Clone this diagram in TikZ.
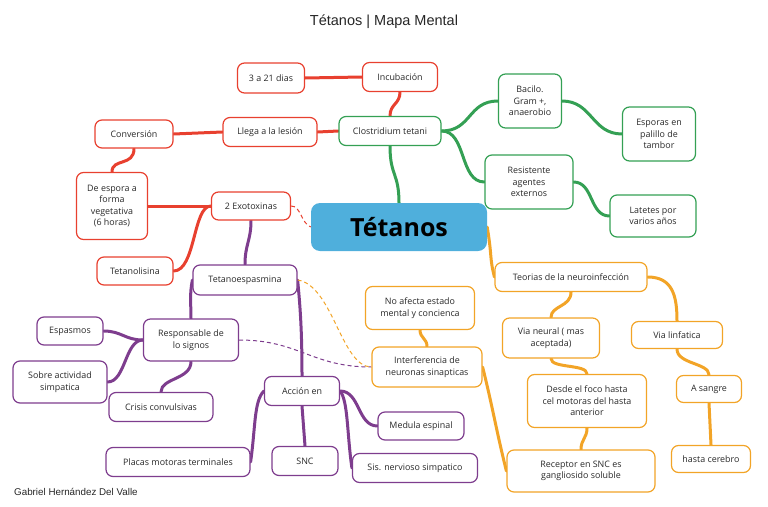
\documentclass[tikz,border=0pt]{standalone}
\usepackage{fontspec}
\setmainfont{Open Sans}
\newfontfamily\titlefont{Liberation Sans}
\usetikzlibrary{backgrounds}
\definecolor{cred}{HTML}{E8402F}
\definecolor{cgreen}{HTML}{34A054}
\definecolor{cpurple}{HTML}{7E3D8E}
\definecolor{corange}{HTML}{F2A427}
\definecolor{cblue}{HTML}{4FAFDC}
\definecolor{ctext}{HTML}{2A2A2A}
\begin{document}
\begin{tikzpicture}[x=1pt,y=-1pt,
  box/.style={draw,line width=1.2pt,rounded corners=7pt,fill=white,align=center,inner sep=1pt,
    font=\fontsize{8.9}{11.5}\selectfont,text=ctext},
  rbox/.style={box,draw=cred},
  gbox/.style={box,draw=cgreen},
  pbox/.style={box,draw=cpurple},
  obox/.style={box,draw=corange},
  link/.style={line width=3pt,line cap=round},
  dlink/.style={line width=1pt,dash pattern=on 4pt off 3pt},
]
\useasboundingbox (0,0) rectangle (768,506);
\node[font=\titlefont\fontsize{14.5}{16}\selectfont,text=black!85] (title) at (384,22) {Tétanos | Mapa Mental};
\node[font=\titlefont\fontsize{9.8}{11}\selectfont,text=black!85,anchor=west,inner sep=0pt] (foot) at (14,492) {Gabriel Hernández Del Valle};

% central
\node[fill=cblue,rounded corners=9pt,minimum width=176,minimum height=48,inner sep=0pt,
  font=\bfseries\fontsize{25}{28}\selectfont,text=black] (tet) at (399,227) {Tétanos};

% red
\node[rbox,minimum width=67,minimum height=30] (d321) at (271,78) {3 a 21 dias};
\node[rbox,minimum width=75,minimum height=29] (inc) at (400,77) {Incubación};
\node[rbox,minimum width=78,minimum height=28] (conv) at (134,134) {Conversión};
\node[rbox,minimum width=94,minimum height=29] (llega) at (270,132) {Llega a la lesión};
\node[rbox,minimum width=71,minimum height=67] (deesp) at (112,206) {De espora a\\forma\\vegetativa\\(6 horas)};
\node[rbox,minimum width=79,minimum height=28] (exo) at (251,206) {2 Exotoxinas};
\node[rbox,minimum width=76,minimum height=28] (tetl) at (135,271) {Tetanolisina};

% green
\node[gbox,minimum width=102,minimum height=29] (clos) at (390,131) {Clostridium tetani};
\node[gbox,minimum width=63,minimum height=54] (bac) at (530,101) {Bacilo.\\Gram +,\\anaerobio};
\node[gbox,minimum width=73,minimum height=54] (espo) at (659,134) {Esporas en\\palillo de\\tambor};
\node[gbox,minimum width=88,minimum height=54] (res) at (529,182) {Resistente\\agentes\\externos};
\node[gbox,minimum width=86,minimum height=42] (lat) at (653,216) {Latetes por\\varios años};

% purple
\node[pbox,minimum width=104,minimum height=30] (teto) at (245,280) {Tetanoespasmina};
\node[pbox,minimum width=95,minimum height=42] (resp) at (191,340) {Responsable de\\lo signos};
\node[pbox,minimum width=66,minimum height=28] (espas) at (70,331) {Espasmos};
\node[pbox,minimum width=94,minimum height=42] (sobre) at (60,382) {Sobre actividad\\simpatica};
\node[pbox,minimum width=104,minimum height=29] (crisis) at (161,407) {Crisis convulsivas};
\node[pbox,minimum width=75,minimum height=29] (acc) at (302,391) {Acción en};
\node[pbox,minimum width=144,minimum height=29] (placas) at (178,462) {Placas motoras terminales};
\node[pbox,minimum width=66,minimum height=29] (snc) at (305,461) {SNC};
\node[pbox,minimum width=86,minimum height=28] (med) at (421,426) {Medula espinal};
\node[pbox,minimum width=125,minimum height=29] (sis) at (415,468) {Sis. nervioso simpatico};

% orange
\node[obox,minimum width=109,minimum height=43] (noaf) at (420,308) {No afecta estado\\mental y concienca};
\node[obox,minimum width=110,minimum height=40] (interf) at (427,367) {Interferencia de\\neuronas sinapticas};
\node[obox,minimum width=152,minimum height=29] (teo) at (571,277) {Teorias de la neuroinfección};
\node[obox,minimum width=97,minimum height=40] (vneu) at (551,338) {Via neural ( mas\\aceptada)};
\node[obox,minimum width=91,minimum height=27] (vlin) at (677,335) {Via linfatica};
\node[obox,minimum width=119,minimum height=53] (desde) at (587,401) {Desde el foco hasta\\cel motoras del hasta\\anterior};
\node[obox,minimum width=65,minimum height=27] (asan) at (709,389) {A sangre};
\node[obox,minimum width=79,minimum height=27] (hcer) at (711,459) {hasta cerebro};
\node[obox,minimum width=148,minimum height=42] (recep) at (581,471) {Receptor en SNC es\\gangliosido soluble};

\begin{pgfonlayer}{background}
% red
\draw[link,cred] (inc.west) -- (d321.east);
\draw[link,cred] (clos.north) .. controls +(0,-12) and +(0,12) .. (inc.south);
\draw[link,cred] (clos.west) -- (llega.east);
\draw[link,cred] (llega.west) -- (conv.east);
\draw[link,cred] (conv.south) .. controls +(0,18) and +(0,-14) .. (deesp.north);
\draw[link,cred] (exo.west) -- (deesp.east);
\draw[link,cred] (tetl.east) .. controls +(22,0) and +(-18,0) .. (exo.west);
\draw[dlink,cred] (exo.east) .. controls +(10,0) and +(-10,-4) .. (tet.west);
% green
\draw[link,cgreen] (tet.north) .. controls +(0,-30) and +(0,30) .. (clos.south);
\draw[link,cgreen] (clos.east) .. controls +(30,0) and +(-30,0) .. (bac.west);
\draw[link,cgreen] (clos.east) .. controls +(25,0) and +(-25,0) .. (res.west);
\draw[link,cgreen] (bac.east) .. controls +(30,0) and +(-30,0) .. (espo.west);
\draw[link,cgreen] (res.east) .. controls +(20,0) and +(-20,0) .. (lat.west);
% purple
\draw[link,cpurple] (exo.south) .. controls +(0,20) and +(0,-20) .. (teto.north);
\draw[link,cpurple] (teto.west) .. controls +(-3,15) and +(0,-15) .. (resp.north);
\draw[link,cpurple] (teto.east) .. controls +(3,30) and +(0,-40) .. (acc.north);
\draw[link,cpurple] (resp.west) .. controls +(-18,0) and +(18,0) .. (espas.east);
\draw[link,cpurple] (resp.west) .. controls +(-18,0) and +(18,0) .. (sobre.east);
\draw[link,cpurple] (resp.south) .. controls +(0,18) and +(0,-14) .. (crisis.north);
\draw[dlink,cpurple] (resp.east) .. controls +(60,0) and +(-60,0) .. (interf.west);
\draw[link,cpurple] (acc.west) .. controls +(-10,10) and +(5,-35) .. (placas.east);
\draw[link,cpurple] (acc.south) -- (snc.north);
\draw[link,cpurple] (acc.east) .. controls +(20,0) and +(-20,0) .. (med.west);
\draw[link,cpurple] (acc.east) .. controls +(8,10) and +(-5,-35) .. (sis.west);
% orange
\draw[link,corange] (tet.east) .. controls +(5,30) and +(-5,-20) .. (teo.west);
\draw[link,corange] (teo.south) .. controls +(0,15) and +(0,-12) .. (vneu.north);
\draw[link,corange] (teo.east) .. controls +(25,0) and +(0,-25) .. (vlin.north);
\draw[link,corange] (vneu.south) .. controls +(0,10) and +(0,-10) .. (desde.north);
\draw[link,corange] (desde.south) .. controls +(0,10) and +(0,-10) .. (recep.north);
\draw[link,corange] (vlin.south) .. controls +(0,15) and +(0,-12) .. (asan.north);
\draw[link,corange] (asan.south) -- (hcer.north);
\draw[link,corange] (interf.north) .. controls +(0,-8) and +(0,8) .. (noaf.south);
\draw[link,corange] (interf.east) .. controls +(10,40) and +(-10,-40) .. (recep.west);
\draw[dlink,corange] (teto.east) .. controls +(35,5) and +(-30,0) .. (interf.west);
\end{pgfonlayer}
\end{tikzpicture}
\end{document}
